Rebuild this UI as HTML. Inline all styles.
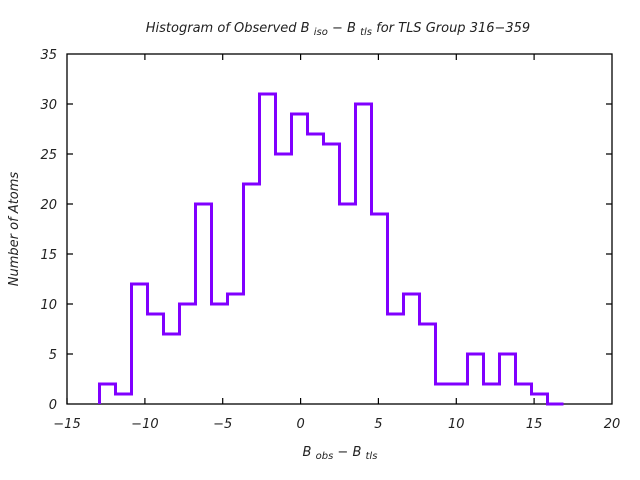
<!DOCTYPE html>
<html><head><style>body{margin:0;background:#fff}svg{display:block}text{font-family:"DejaVu Sans","Liberation Sans",sans-serif;font-style:italic;font-size:13px;fill:#222}</style></head>
<body>
<svg width="640" height="480" viewBox="0 0 640 480">
<rect x="67" y="54" width="545" height="350" fill="none" stroke="#000" stroke-width="1.3"/>
<g stroke="#000" stroke-width="1.2">
<path d="M67 404v-6M144.9 404v-6M222.7 404v-6M300.6 404v-6M378.4 404v-6M456.3 404v-6M534.1 404v-6
M144.9 54v6M222.7 54v6M300.6 54v6M378.4 54v6M456.3 54v6M534.1 54v6
M67 354h6M67 304h6M67 254h6M67 204h6M67 154h6M67 104h6
M612 354h-6M612 304h-6M612 254h-6M612 204h-6M612 154h-6M612 104h-6"/>
</g>
<g text-anchor="middle">
<text x="67" y="428">−15</text><text x="144.9" y="428">−10</text><text x="222.7" y="428">−5</text><text x="300.6" y="428">0</text><text x="378.4" y="428">5</text><text x="456.3" y="428">10</text><text x="534.1" y="428">15</text><text x="612" y="428">20</text>
</g>
<g text-anchor="end">
<text x="57" y="409">0</text><text x="57" y="359">5</text><text x="57" y="309">10</text><text x="57" y="259">15</text><text x="57" y="209">20</text><text x="57" y="159">25</text><text x="57" y="109">30</text><text x="57" y="59">35</text>
</g>
<text x="338" y="32" text-anchor="middle">Histogram of Observed B <tspan font-size="10" dy="3">iso</tspan><tspan dy="-3">  − B </tspan><tspan font-size="10" dy="3">tls</tspan><tspan dy="-3">  for TLS Group 316−359</tspan></text>
<text x="340" y="456" text-anchor="middle">B <tspan font-size="10" dy="3">obs</tspan><tspan dy="-3">  − B </tspan><tspan font-size="10" dy="3">tls</tspan></text>
<text transform="translate(18,229) rotate(-90)" text-anchor="middle">Number of Atoms</text>
<path fill="none" stroke="#8000ff" stroke-width="3" d="M99.5 404 V384 H115.5 V394 H131.5 V284 H147.5 V314 H163.5 V334 H179.5 V304 H195.5 V204 H211.5 V304 H227.5 V294 H243.5 V184 H259.5 V94 H275.5 V154 H291.5 V114 H307.5 V134 H323.5 V144 H339.5 V204 H355.5 V104 H371.5 V214 H387.5 V314 H403.5 V294 H419.5 V324 H435.5 V384 H467.5 V354 H483.5 V384 H499.5 V354 H515.5 V384 H531.5 V394 H547.5 V404 H563.5"/>
</svg>
</body></html>
